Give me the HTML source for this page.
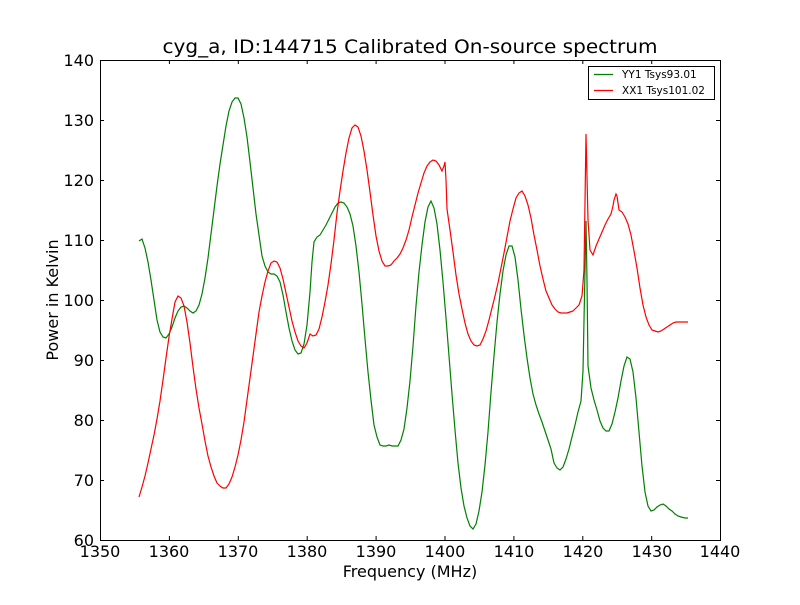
<!DOCTYPE html>
<html><head><meta charset="utf-8"><style>body{margin:0;background:#fff}</style></head><body>
<svg width="800" height="600" xmlns="http://www.w3.org/2000/svg" font-family="DejaVu Sans, sans-serif">
<rect width="800" height="600" fill="#fff"/>
<g stroke="#000" stroke-width="1" fill="none">
<path d="M100.5 60.5H720.5V540.5H100.5Z"/>
<path d="M169.4 540v-4M238.3 540v-4M307.2 540v-4M376.1 540v-4M445 540v-4M513.9 540v-4M582.8 540v-4M651.7 540v-4M169.4 60v4M238.3 60v4M307.2 60v4M376.1 60v4M445 60v4M513.9 60v4M582.8 60v4M651.7 60v4"/>
<path d="M100 480.5h4M100 420.5h4M100 360.5h4M100 300.5h4M100 240.5h4M100 180.5h4M100 120.5h4M720 480.5h-4M720 420.5h-4M720 360.5h-4M720 300.5h-4M720 240.5h-4M720 180.5h-4M720 120.5h-4"/>
</g>
<g font-size="16" text-anchor="middle" fill="#000">
<text x="100" y="557">1350</text><text x="169" y="557">1360</text><text x="238" y="557">1370</text><text x="307" y="557">1380</text><text x="376" y="557">1390</text><text x="445" y="557">1400</text><text x="514" y="557">1410</text><text x="583" y="557">1420</text><text x="652" y="557">1430</text><text x="720" y="557">1440</text>
</g>
<g font-size="16" text-anchor="end" fill="#000">
<text x="94" y="546">60</text><text x="94" y="486">70</text><text x="94" y="426">80</text><text x="94" y="366">90</text><text x="94" y="306">100</text><text x="94" y="246">110</text><text x="94" y="186">120</text><text x="94" y="126">130</text><text x="94" y="66">140</text>
</g>
<text x="410" y="53" font-size="19" text-anchor="middle" textLength="495" lengthAdjust="spacingAndGlyphs">cyg_a, ID:144715 Calibrated On-source spectrum</text>
<text x="410" y="577" font-size="16" text-anchor="middle">Frequency (MHz)</text>
<text transform="translate(58,300) rotate(-90)" font-size="16" text-anchor="middle">Power in Kelvin</text>
<polyline fill="none" stroke="#008000" stroke-width="1.2" points="139,241 142,239 145,248 148,262 151,280 154,300 157,320 160,332 163,337 166,338 169,334 172,327 175,318 178,311 181,307 184,306 187,308 190,311 193,313 196,311 199,305 202,294 205,278 208,258 211,234 214,210 217,186 220,164 223,145 226,126 229,111 232,102 235,98 238,98 241,104 244,118 247,137 250,162 253,188 256,214 259,235 262,256 265,266 268,272 271,274 274,274 277,276 280,282 283,295 286,312 289,328 292,341 295,350 298,354 301,353 304,344 307,325 310,292 312,262 314,242 317,237 320,235 323,230 326,225 329,219 332,213 335,207 338,203 341,202 344,203 347,207 350,214 353,226 356,246 359,272 362,304 365,339 368,372 371,400 374,425 377,437 380,445 383,446 386,446 389,445 392,446 395,446 398,446 401,440 404,429 407,408 410,381 413,346 416,306 419,272 422,245 425,222 428,207 431,201 434,208 437,224 440,250 443,282 446,318 449,356 452,394 455,430 458,463 461,488 464,506 467,518 470,526 473,529 476,524 479,511 482,492 485,465 488,432 491,392 494,356 497,322 500,294 503,271 506,255 509,246 512,246 515,257 518,280 521,309 524,335 527,358 530,378 533,394 536,405 539,414 542,422 545,431 548,440 551,449 554,463 557,468 560,470 563,467 566,459 569,449 572,437 575,425 578,412 581,401 583,371 585,270 586,221 587,280 588,366 591,388 594,400 597,410 600,421 603,428 606,431 609,431 612,424 615,412 618,398 621,381 624,366 627,357 630,359 633,372 636,398 639,432 642,466 645,492 648,506 651,511 654,510 657,507 660,505 663,504 666,506 669,509 672,511 675,514 678,516 681,517 685,518 688,518"/>
<polyline fill="none" stroke="#ff0000" stroke-width="1.2" points="139,497 142,487 145,476 148,463 151,449 154,435 157,419 160,401 163,380 166,358 169,337 172,319 175,302 178,296 181,298 184,306 187,322 190,343 193,367 196,389 199,408 202,424 205,441 208,456 211,467 214,476 217,483 220,486 223,488 226,488 229,484 232,477 235,467 238,455 241,440 244,422 247,400 250,378 253,356 256,334 259,312 262,296 265,282 268,271 271,263 274,261 277,262 280,268 283,279 286,293 289,307 292,321 295,332 298,341 301,346 304,348 307,343 310,334 313,336 316,335 319,329 322,317 325,302 328,285 331,264 334,240 337,213 340,191 343,171 346,153 349,138 352,128 355,125 358,127 361,136 364,151 367,170 370,192 373,215 376,236 379,251 382,261 385,266 388,266 391,265 394,261 397,258 400,254 403,248 406,240 409,230 412,217 415,205 418,193 421,183 424,173 427,166 430,162 433,160 436,161 439,165 442,171 444,166 445,162 446,180 447,209 450,230 453,252 456,275 459,294 462,309 465,323 468,334 471,341 474,345 477,346 480,345 483,339 486,331 489,320 492,308 495,296 498,283 501,268 504,253 507,237 510,221 513,209 516,198 519,193 522,191 525,196 528,205 531,218 534,235 537,250 540,266 543,279 546,291 549,298 552,305 555,309 558,312 561,313 564,313 567,313 570,312 573,311 576,308 579,305 582,296 584,270 586,134 588,220 590,250 593,255 596,246 599,239 602,232 605,225 608,219 611,214 613,206 614,200 616,194 617,196 619,210 622,212 625,217 628,224 631,235 634,251 637,268 640,288 643,305 646,317 649,325 652,330 655,331 658,332 661,331 664,329 667,327 670,325 673,323 676,322 682,322 688,322"/>
<rect x="588.5" y="66.5" width="126" height="33" fill="#fff" stroke="#000"/>
<line x1="594" y1="74.5" x2="613" y2="74.5" stroke="#008000" stroke-width="1.2"/>
<line x1="594" y1="90.5" x2="613" y2="90.5" stroke="#ff0000" stroke-width="1.2"/>
<text x="622" y="78" font-size="10.5">YY1 Tsys93.01</text>
<text x="622" y="94" font-size="10.5">XX1 Tsys101.02</text>
</svg>
</body></html>
